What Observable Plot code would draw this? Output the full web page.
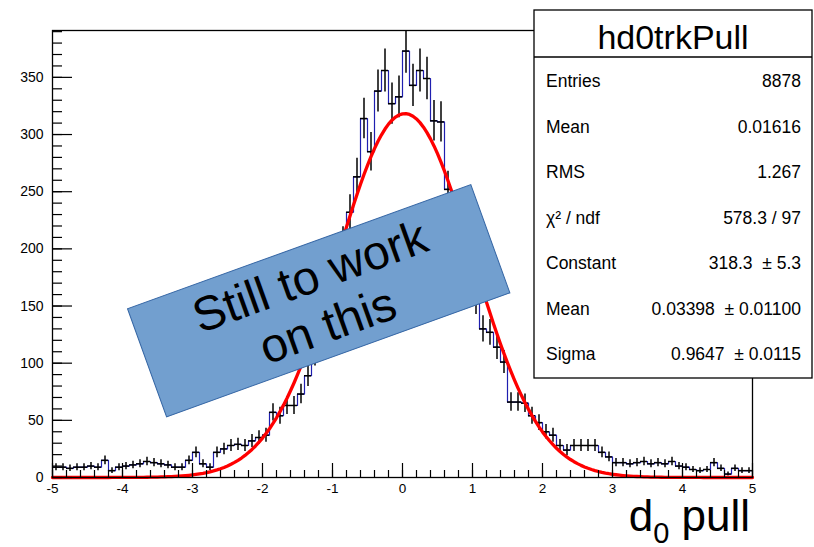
<!DOCTYPE html>
<html>
<head>
<meta charset="utf-8">
<script src="https://cdn.jsdelivr.net/npm/d3@7"></script>
<script src="https://cdn.jsdelivr.net/npm/@observablehq/plot@0.6"></script>
<style>
  html, body { margin: 0; padding: 0; background: #fff; }
  #chart { width: 814px; height: 547px; overflow: hidden; }
  svg { display: block; font-family: "Liberation Sans", Arial, sans-serif; }
</style>
</head>
<body>
<div id="chart"></div>
<script>
// hd0trkPull: 100 bins of width 0.1 between -5 and 5
const xMin = -5;
const xMax = 5;
const binWidth = 0.1;
const counts = [
  9, 9, 8, 9, 9, 10, 9, 15, 6, 9,
  10, 11, 12, 14, 13, 12, 11, 9, 9, 15,
  22, 12, 9, 22, 25, 28, 29, 28, 32, 35,
  37, 57, 54, 63, 63, 73, 89, 108, 130, 155,
  182, 205, 232, 263, 314, 285, 338, 356, 327, 333,
  373, 343, 356, 349, 312, 311, 252, 225, 198, 172,
  155, 130, 127, 114, 101, 66, 66, 65, 54, 48,
  40, 37, 28, 24, 28, 28, 28, 28, 22, 18,
  13, 13, 12, 13, 14, 12, 13, 12, 14, 10,
  9, 7, 6, 7, 13, 8, 3, 8, 6, 6
];
const yTop = 391;

// Gaussian fit parameters (as printed in the stats box)
const fitConstant = 318.3;
const fitMean = 0.03398;
const fitSigma = 0.9647;

// Axis ticks
const xMajorTicks = [-5, -4, -3, -2, -1, 0, 1, 2, 3, 4, 5];
const xMinorTicks = d3.range(0, 51).map(i => -5 + i * 0.2);
const yMajorTicks = [0, 50, 100, 150, 200, 250, 300, 350];
const yMinorTicks = d3.range(0, 40).map(i => i * 10);

// Stats box
const statsTitle = "hd0trkPull";
const statLabels = ["Entries", "Mean", "RMS", "χ² / ndf", "Constant", "Mean", "Sigma"];
const statValues = ["8878", "0.01616", "1.267", "578.3 / 97", "318.3  ± 5.3", "0.03398  ± 0.01100", "0.9647  ± 0.0115"];

const noteLines = ["Still to work", "on this"];

// ---- layout
const W = 814, H = 547;
const mL = 52, mR = 62, mT = 30, mB = 70;
const innerW = W - mL - mR;
const innerH = H - mT - mB;
const font = "Liberation Sans, Arial, sans-serif";

const bins = counts.map((n, i) => ({
  lo: xMin + i * binWidth,
  hi: xMin + (i + 1) * binWidth,
  mid: xMin + (i + 0.5) * binWidth,
  n,
  err: Math.sqrt(n)
}));
const outline = bins.map(b => ({x: b.lo, y: b.n}))
  .concat([{x: xMax, y: counts[counts.length - 1]}]);

const fitX = d3.range(0, 201).map(i => xMin + i * (xMax - xMin) / 200);
const fitCurve = fitX.map(x => ({x, y: fitConstant * Math.exp(-0.5 * ((x - fitMean) / fitSigma) ** 2)}));

const plot = Plot.plot({
  width: W,
  height: H,
  marginLeft: mL,
  marginRight: mR,
  marginTop: mT,
  marginBottom: mB,
  x: {domain: [xMin, xMax], axis: null},
  y: {domain: [0, yTop], axis: null},
  style: {background: "#fff", fontFamily: font, color: "#000"},
  marks: [
    Plot.line(outline, {x: "x", y: "y", curve: "step-after", stroke: "#1f1fb0", strokeWidth: 1.2}),
    Plot.ruleX(bins, {x: "mid", y1: d => Math.max(0, d.n - d.err), y2: d => d.n + d.err, stroke: "#000", strokeWidth: 1.5, clip: true}),
    Plot.ruleY(bins, {y: "n", x1: "lo", x2: "hi", stroke: "#000", strokeWidth: 1.5}),
    Plot.line(fitCurve, {x: "x", y: "y", stroke: "#ff0000", strokeWidth: 3.3}),
    // ticks drawn inside the frame
    Plot.ruleX(xMinorTicks, {stroke: "#000", strokeWidth: 1.2, insetTop: innerH - 7}),
    Plot.ruleX(xMajorTicks, {stroke: "#000", strokeWidth: 1.2, insetTop: innerH - 14}),
    Plot.ruleY(yMinorTicks, {stroke: "#000", strokeWidth: 1.2, insetRight: innerW - 10}),
    Plot.ruleY(yMajorTicks, {stroke: "#000", strokeWidth: 1.2, insetRight: innerW - 20}),
    Plot.frame({stroke: "#000", strokeWidth: 1.3}),
    Plot.text(xMajorTicks, {x: d => d, frameAnchor: "bottom", lineAnchor: "top", dy: 6, text: d => String(d), fontSize: 13.5, fill: "#000"}),
    Plot.text(yMajorTicks, {y: d => d, frameAnchor: "left", textAnchor: "end", dx: -9, text: d => String(d), fontSize: 14, fill: "#000"})
  ]
});

document.getElementById("chart").appendChild(plot);
const svg = d3.select(plot);

// statistics box
const box = {x: 534, y: 10, w: 278, h: 368, head: 47};
const sg = svg.append("g").attr("font-family", font).attr("fill", "#000");
sg.append("rect").attr("x", box.x).attr("y", box.y).attr("width", box.w).attr("height", box.h)
  .attr("fill", "#fff").attr("stroke", "#000").attr("stroke-width", 1.3);
sg.append("line").attr("x1", box.x).attr("x2", box.x + box.w)
  .attr("y1", box.y + box.head).attr("y2", box.y + box.head)
  .attr("stroke", "#000").attr("stroke-width", 1.3);
sg.append("text").attr("x", box.x + box.w / 2).attr("y", 49).attr("text-anchor", "middle")
  .attr("font-size", 34).text(statsTitle);
statLabels.forEach((label, i) => {
  const y = 87 + i * 45.5;
  sg.append("text").attr("x", box.x + 12).attr("y", y).attr("text-anchor", "start")
    .attr("font-size", 17.5).text(label);
  sg.append("text").attr("x", box.x + box.w - 11).attr("y", y).attr("text-anchor", "end")
    .attr("font-size", 17.5).style("white-space", "pre").attr("xml:space", "preserve").text(statValues[i]);
});

// axis title
const ax = svg.append("text").attr("font-family", font).attr("fill", "#000")
  .attr("x", 750).attr("y", 531).attr("text-anchor", "end").attr("font-size", 44);
ax.append("tspan").text("d");
ax.append("tspan").attr("font-size", 29).attr("dy", 12).text("0");
ax.append("tspan").attr("dy", -12).text(" pull");

// rotated note
const note = svg.append("g").attr("transform", "translate(318.7,300.8) rotate(-19.86)");
note.append("rect").attr("x", -182.5).attr("y", -57.5).attr("width", 365).attr("height", 115)
  .attr("fill", "#729fcf").attr("stroke", "#3465a4").attr("stroke-width", 1);
noteLines.forEach((t, i) => {
  note.append("text").attr("x", 0).attr("y", (i - 0.5) * 52)
    .attr("text-anchor", "middle").attr("dominant-baseline", "central")
    .attr("font-family", font).attr("font-size", 48).attr("fill", "#000").text(t);
});
</script>
</body>
</html>
